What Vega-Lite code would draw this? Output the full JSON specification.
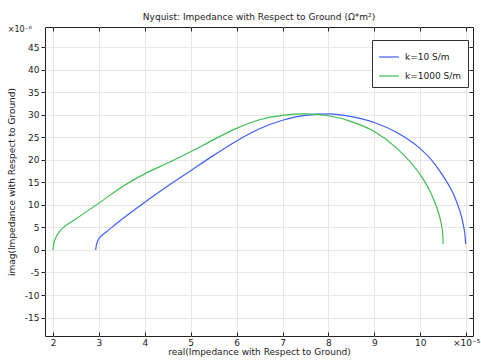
{
  "$schema": "https://vega.github.io/schema/vega-lite/v6.json",
  "width": 428,
  "height": 309,
  "autosize": {"type": "none"},
  "padding": {"left": 45, "top": 27, "right": 8, "bottom": 26},
  "background": "white",
  "title": {"text": "Nyquist: Impedance with Respect to Ground (Ω*m²)", "font": "DejaVu Sans", "fontSize": 9, "fontWeight": "normal", "color": "#222", "offset": 4, "anchor": "middle"},
  "config": {
    "view": {"stroke": "#222", "strokeWidth": 1},
    "font": "DejaVu Sans",
    "axis": {"labelFont": "DejaVu Sans", "titleFont": "DejaVu Sans", "labelFontSize": 9, "titleFontSize": 9, "titleFontWeight": "normal", "labelColor": "#222", "titleColor": "#222", "tickColor": "#222", "gridColor": "#e6e6e6", "domain": false}
  },
  "datasets": {
    "curves": [
      {"series": "k=10 S/m", "i": 0, "re": 2.93, "im": 0.0},
      {"series": "k=10 S/m", "i": 1, "re": 2.94, "im": 0.8},
      {"series": "k=10 S/m", "i": 2, "re": 2.96, "im": 1.6},
      {"series": "k=10 S/m", "i": 3, "re": 2.99, "im": 2.3},
      {"series": "k=10 S/m", "i": 4, "re": 3.05, "im": 3.1},
      {"series": "k=10 S/m", "i": 5, "re": 3.16, "im": 4.0},
      {"series": "k=10 S/m", "i": 6, "re": 3.5, "im": 6.8},
      {"series": "k=10 S/m", "i": 7, "re": 4.0, "im": 10.6},
      {"series": "k=10 S/m", "i": 8, "re": 4.5, "im": 14.2},
      {"series": "k=10 S/m", "i": 9, "re": 5.0, "im": 17.6},
      {"series": "k=10 S/m", "i": 10, "re": 5.5, "im": 21.0},
      {"series": "k=10 S/m", "i": 11, "re": 6.0, "im": 24.2},
      {"series": "k=10 S/m", "i": 12, "re": 6.5, "im": 26.9},
      {"series": "k=10 S/m", "i": 13, "re": 7.0, "im": 28.8},
      {"series": "k=10 S/m", "i": 14, "re": 7.5, "im": 29.9},
      {"series": "k=10 S/m", "i": 15, "re": 8.0, "im": 30.2},
      {"series": "k=10 S/m", "i": 16, "re": 8.5, "im": 29.6},
      {"series": "k=10 S/m", "i": 17, "re": 9.0, "im": 28.3},
      {"series": "k=10 S/m", "i": 18, "re": 9.5, "im": 26.0},
      {"series": "k=10 S/m", "i": 19, "re": 10.0, "im": 22.5},
      {"series": "k=10 S/m", "i": 20, "re": 10.3, "im": 19.3},
      {"series": "k=10 S/m", "i": 21, "re": 10.5, "im": 16.4},
      {"series": "k=10 S/m", "i": 22, "re": 10.7, "im": 12.9},
      {"series": "k=10 S/m", "i": 23, "re": 10.8, "im": 10.5},
      {"series": "k=10 S/m", "i": 24, "re": 10.9, "im": 7.4},
      {"series": "k=10 S/m", "i": 25, "re": 10.95, "im": 5.0},
      {"series": "k=10 S/m", "i": 26, "re": 10.98, "im": 2.8},
      {"series": "k=10 S/m", "i": 27, "re": 10.99, "im": 1.3},
      {"series": "k=1000 S/m", "i": 0, "re": 2.0, "im": 0.0},
      {"series": "k=1000 S/m", "i": 1, "re": 2.01, "im": 1.0},
      {"series": "k=1000 S/m", "i": 2, "re": 2.04, "im": 2.2},
      {"series": "k=1000 S/m", "i": 3, "re": 2.09, "im": 3.3},
      {"series": "k=1000 S/m", "i": 4, "re": 2.15, "im": 4.2},
      {"series": "k=1000 S/m", "i": 5, "re": 2.25, "im": 5.2},
      {"series": "k=1000 S/m", "i": 6, "re": 2.44, "im": 6.5},
      {"series": "k=1000 S/m", "i": 7, "re": 3.0, "im": 10.4},
      {"series": "k=1000 S/m", "i": 8, "re": 3.5, "im": 14.0},
      {"series": "k=1000 S/m", "i": 9, "re": 4.0, "im": 16.9},
      {"series": "k=1000 S/m", "i": 10, "re": 4.5, "im": 19.3},
      {"series": "k=1000 S/m", "i": 11, "re": 5.0, "im": 21.8},
      {"series": "k=1000 S/m", "i": 12, "re": 5.5, "im": 24.5},
      {"series": "k=1000 S/m", "i": 13, "re": 6.0, "im": 27.0},
      {"series": "k=1000 S/m", "i": 14, "re": 6.5, "im": 28.9},
      {"series": "k=1000 S/m", "i": 15, "re": 7.0, "im": 29.9},
      {"series": "k=1000 S/m", "i": 16, "re": 7.5, "im": 30.2},
      {"series": "k=1000 S/m", "i": 17, "re": 8.0, "im": 29.8},
      {"series": "k=1000 S/m", "i": 18, "re": 8.5, "im": 28.5},
      {"series": "k=1000 S/m", "i": 19, "re": 9.0, "im": 26.3},
      {"series": "k=1000 S/m", "i": 20, "re": 9.5, "im": 22.5},
      {"series": "k=1000 S/m", "i": 21, "re": 10.0, "im": 16.7},
      {"series": "k=1000 S/m", "i": 22, "re": 10.2, "im": 13.3},
      {"series": "k=1000 S/m", "i": 23, "re": 10.35, "im": 9.7},
      {"series": "k=1000 S/m", "i": 24, "re": 10.45, "im": 6.2},
      {"series": "k=1000 S/m", "i": 25, "re": 10.49, "im": 3.6},
      {"series": "k=1000 S/m", "i": 26, "re": 10.5, "im": 1.3}
    ],
    "note": [{"re": 1.826, "im": 49.5, "t": "×10⁻⁶"}]
  },
  "layer": [
    {
      "data": {"name": "curves"},
      "mark": {"type": "line", "strokeWidth": 1.2, "interpolate": "monotone"},
      "encoding": {
        "x": {"field": "re", "type": "quantitative", "scale": {"domain": [1.826, 11.15], "nice": false, "zero": false},
              "axis": {"orient": "bottom", "values": [2, 3, 4, 5, 6, 7, 8, 9, 10, 11], "labelExpr": "datum.value == 11 ? '×10⁻⁵' : datum.label", "tickSize": -4, "labelPadding": 6, "grid": true, "title": "real(Impedance with Respect to Ground)", "titlePadding": 0}},
        "y": {"field": "im", "type": "quantitative", "scale": {"domain": [-19.1, 49.5], "nice": false, "zero": false},
              "axis": {"orient": "left", "values": [-15, -10, -5, 0, 5, 10, 15, 20, 25, 30, 35, 40, 45], "labelExpr": "replace(datum.label, '−', '-')", "tickSize": 4, "labelPadding": 2, "grid": true, "title": "imag(Impedance with Respect to Ground)", "titlePadding": 8}},
        "color": {"field": "series", "type": "nominal", "scale": {"domain": ["k=10 S/m", "k=1000 S/m"], "range": ["#3f5ffb", "#3dbf4f"]},
                  "legend": {"title": null, "orient": "none", "legendX": 327, "legendY": 13, "symbolType": "stroke", "symbolSize": 400, "symbolStrokeWidth": 1.2, "labelFontSize": 9, "labelFont": "DejaVu Sans", "labelColor": "#222", "padding": 6, "rowPadding": 3, "labelOffset": 5, "strokeColor": "#333", "fillColor": "white"}},
        "order": {"field": "i", "type": "quantitative"}
      }
    },
    {
      "data": {"name": "note"},
      "mark": {"type": "text", "fontSize": 8, "font": "DejaVu Sans", "color": "#222", "align": "right", "baseline": "middle", "dx": -13, "dy": 3, "clip": false},
      "encoding": {
        "x": {"field": "re", "type": "quantitative", "axis": {"orient": "top", "values": [2, 3, 4, 5, 6, 7, 8, 9, 10, 11], "labels": false, "grid": false, "tickSize": -4, "title": null}},
        "y": {"field": "im", "type": "quantitative", "axis": {"orient": "right", "values": [-15, -10, -5, 0, 5, 10, 15, 20, 25, 30, 35, 40, 45], "labels": false, "grid": false, "tickSize": -4, "title": null}},
        "text": {"field": "t"}
      }
    }
  ],
  "resolve": {"axis": {"x": "independent", "y": "independent"}}
}
